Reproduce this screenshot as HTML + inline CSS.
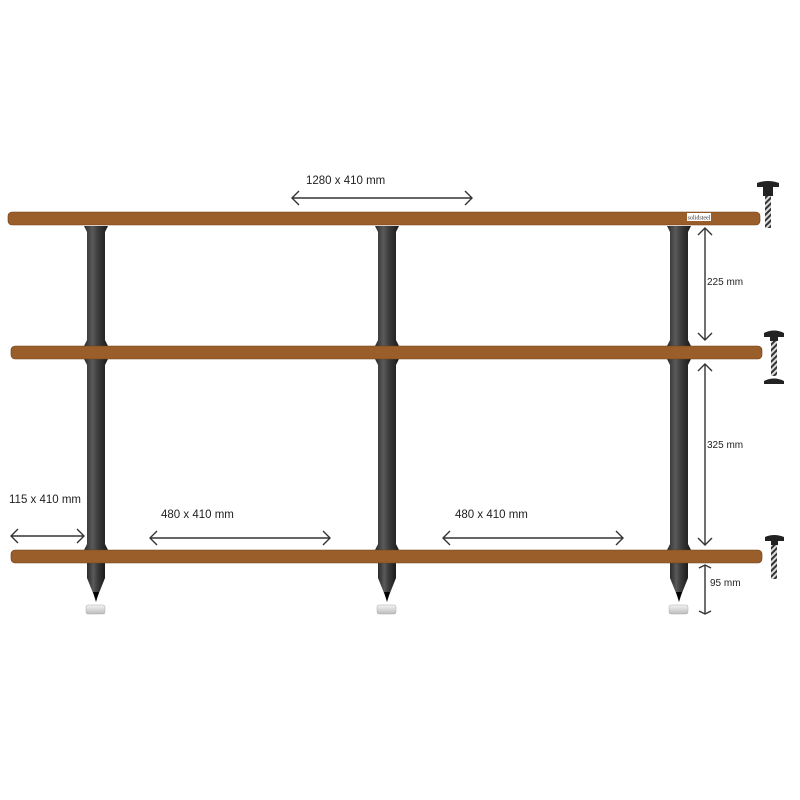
<!DOCTYPE html>
<html><head><style>html,body{margin:0;padding:0;background:#fff}svg{display:block}</style></head>
<body>
<svg width="800" height="800" viewBox="0 0 800 800" xmlns="http://www.w3.org/2000/svg" font-family="Liberation Sans, sans-serif">
<defs>
<linearGradient id="post" x1="0" x2="1" y1="0" y2="0">
<stop offset="0" stop-color="#2a2a2a"/><stop offset="0.35" stop-color="#5a5a5a"/><stop offset="0.6" stop-color="#3a3a3a"/><stop offset="1" stop-color="#1a1a1a"/>
</linearGradient>
<linearGradient id="foot" x1="0" x2="0" y1="0" y2="1">
<stop offset="0" stop-color="#f4f4f4"/><stop offset="1" stop-color="#bcbcbc"/>
</linearGradient>
<pattern id="thread" width="4" height="4" patternUnits="userSpaceOnUse" patternTransform="rotate(45)">
<rect width="4" height="4" fill="#ddd"/><rect width="2" height="4" fill="#333"/>
</pattern>
</defs>

<g fill="url(#post)">
<path d="M84 226 L108 226 L105 232 L105 340 L108 346 L84 346 L87 340 L87 232 Z"/>
<path d="M84 359 L108 359 L105 365 L105 544 L108 550 L84 550 L87 544 L87 365 Z"/>
<path d="M87 563 L105 563 L105 578 L97 598 L95 598 L87 578 Z"/>
<path d="M375 226 L399 226 L396 232 L396 340 L399 346 L375 346 L378 340 L378 232 Z"/>
<path d="M375 359 L399 359 L396 365 L396 544 L399 550 L375 550 L378 544 L378 365 Z"/>
<path d="M378 563 L396 563 L396 578 L388 598 L386 598 L378 578 Z"/>
<path d="M667 226 L691 226 L688 232 L688 340 L691 346 L667 346 L670 340 L670 232 Z"/>
<path d="M667 359 L691 359 L688 365 L688 544 L691 550 L667 550 L670 544 L670 365 Z"/>
<path d="M670 563 L688 563 L688 578 L680 598 L678 598 L670 578 Z"/>
</g>
<g fill="#000"><path d="M93 592 L99 592 L96 602Z"/><path d="M384 592 L390 592 L387 602Z"/><path d="M676 592 L682 592 L679 602Z"/></g>
<g fill="url(#foot)" stroke="#aaa" stroke-width="0.5">
<rect x="86" y="605" width="19" height="9" rx="2"/>
<rect x="377" y="605" width="19" height="9" rx="2"/>
<rect x="669" y="605" width="19" height="9" rx="2"/>
</g>

<g fill="#9a5e2a" stroke="#6e3f18" stroke-width="0.6">
<rect x="8" y="212" width="752" height="13" rx="4"/>
<rect x="11" y="346" width="751" height="13" rx="4"/>
<rect x="11" y="550" width="751" height="13" rx="4"/>
</g>
<rect x="687" y="213" width="24" height="8" fill="#fff"/>
<text x="699" y="219.5" font-size="6" text-anchor="middle" font-family="Liberation Serif, serif" fill="#333">solidsteel</text>

<g stroke="#333" stroke-width="1.4" fill="none">
<line x1="292" y1="198" x2="472" y2="198"/><path d="M299 191 L292 198 L299 205 M465 191 L472 198 L465 205"/>
<line x1="11" y1="536" x2="84" y2="536"/><path d="M18 529 L11 536 L18 543 M77 529 L84 536 L77 543"/>
<line x1="150" y1="538" x2="330" y2="538"/><path d="M157 531 L150 538 L157 545 M323 531 L330 538 L323 545"/>
<line x1="443" y1="538" x2="623" y2="538"/><path d="M450 531 L443 538 L450 545 M616 531 L623 538 L616 545"/>
<line x1="705" y1="228" x2="705" y2="340"/><path d="M698 235 L705 228 L712 235 M698 333 L705 340 L712 333"/>
<line x1="705" y1="364" x2="705" y2="545"/><path d="M698 371 L705 364 L712 371 M698 538 L705 545 L712 538"/>
<line x1="705" y1="565" x2="705" y2="614"/><path d="M699 568 L705 565 L711 568 M699 611 L705 614 L711 611"/>
</g>

<g font-size="11.5" fill="#222">
<text x="306" y="184">1280 x  410 mm</text>
<text x="9" y="503">115 x 410 mm</text>
<text x="161" y="518">480 x 410 mm</text>
<text x="455" y="518">480 x 410 mm</text>
<text x="707" y="285" font-size="10">225 mm</text>
<text x="707" y="448" font-size="10">325 mm</text>
<text x="710" y="586" font-size="10">95 mm</text>
</g>

<g>
<path d="M757 183 Q768 179 779 183 L779 187 L773 187 L773 196 L763 196 L763 187 L757 187Z" fill="#222"/>
<rect x="765" y="196" width="6" height="32" fill="url(#thread)"/>
<path d="M764 333 Q774 328 784 333 L784 337 L778 337 L778 341 L770 341 L770 337 L764 337Z" fill="#222"/>
<rect x="771" y="341" width="6" height="35" fill="url(#thread)"/>
<path d="M764 381 Q774 376 784 381 L784 384 L764 384Z" fill="#222"/>
<path d="M765 537 Q774 533 784 537 L784 541 L778 541 L778 545 L771 545 L771 541 L765 541Z" fill="#222"/>
<rect x="771" y="545" width="6" height="34" fill="url(#thread)"/>
</g>
</svg>
</body></html>
